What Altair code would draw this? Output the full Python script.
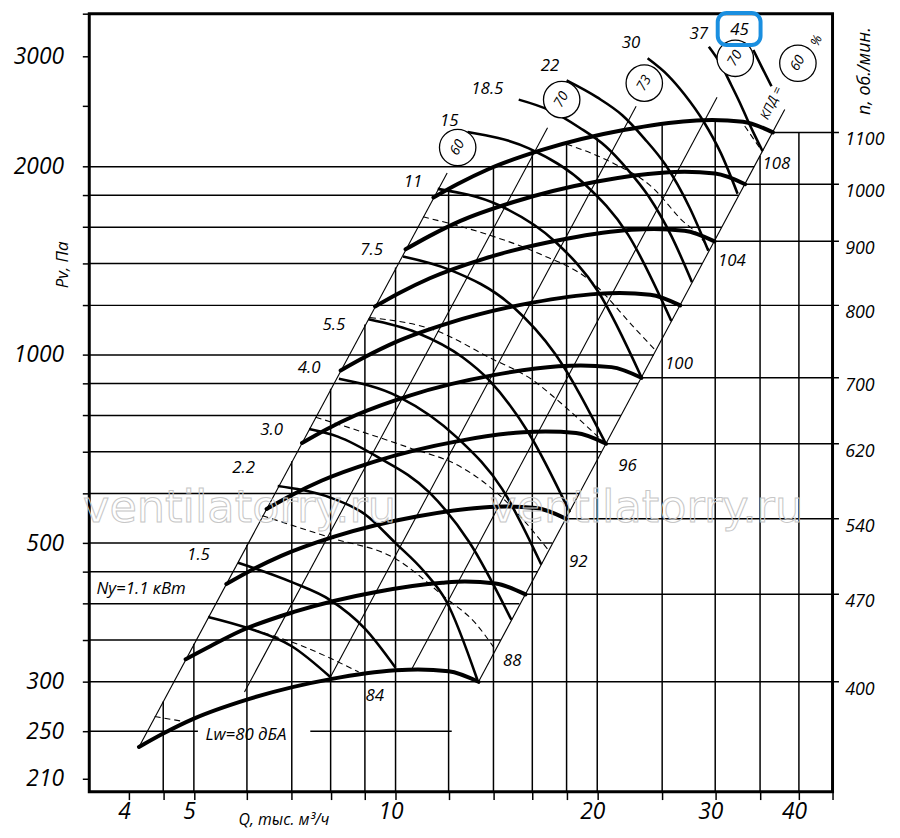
import altair as alt
import pandas as pd

# ---------------- scale domains (Q, thousand m3/h ; Pv, Pa) ----------------
Q_MIN, Q_MAX = 3.49, 44.9
P_MIN, P_MAX = 200.2, 3513.0
Q_RIGHT = 45.9          # rpm lines run a little past the right frame

# ---------------- axis ticks ----------------
x_tick_values = [4, 4.5, 5, 6, 7, 8, 9, 10, 12, 14, 16, 18, 20, 25, 30, 35, 40, 44.9]
x_label_values = [4, 5, 10, 20, 30, 40]
y_tick_values = [210, 250, 300, 350, 400, 450, 500, 600, 700, 800, 900, 1000,
                 1200, 1400, 1600, 1800, 2000, 2500, 3000, 3513]
y_label_values = [210, 250, 300, 500, 1000, 2000, 3000]

# ---------------- grid: horizontal Pv lines (start Q, end Q) ----------------
grid_h_P = [2000, 1800, 1600, 1400, 1200, 1000, 900, 800, 700, 600, 500, 450, 400, 350, 300, 250, 250]
grid_h_Q1 = [Q_MIN, Q_MIN, Q_MIN, Q_MIN, Q_MIN, Q_MIN, Q_MIN, Q_MIN, Q_MIN, Q_MIN,
             Q_MIN, Q_MIN, Q_MIN, Q_MIN, Q_MIN, Q_MIN, 7.46]
grid_h_Q2 = [34.3, 32.5, 30.7, 28.7, 26.6, 24.3, 23.0, 21.7, 20.3, 18.8,
             17.15, 16.3, 15.3, 14.35, 13.3, 5.07, 12.13]

# ---------------- grid: vertical Q lines (top Pv) ----------------
grid_v_Q = [4.5, 5, 6, 7, 8, 9, 10, 12, 14, 16, 18, 20, 25, 30, 35, 40]
grid_v_top = [279, 345, 497, 676, 883, 1118, 1380, 1840, 1985, 2120, 2170, 2225, 2330, 2365, 2082, 2269]

# ---------------- grid: diagonal (efficiency) lines ----------------
diag_Q1 = [4.14, 5.95, 7.97, 10.55, 13.3]
diag_P1 = [236, 289, 303.5, 313, 300]
diag_Q2 = [11.94, 16.86, 22.86, 30.19, 38.1]
diag_P2 = [1954, 2308, 2499, 2583, 2469]

# ---------------- rpm lines / labels (right side) ----------------
rpm_text = ["1100", "1000", "900", "800", "700", "620", "540", "470", "400"]
rpm_P = [2269, 1875, 1519, 1200, 919, 721, 547, 414, 300]
rpm_Q_start = [36.6, 33.25, 29.9, 26.6, 23.3, 20.6, 17.96, 15.6, 13.3]

# ---------------- fan curves ----------------
fan_rpm = [400, 470, 540, 620, 700, 800, 900, 1000, 1100]
fan_Q = [
    [4.14, 4.5, 5.0, 6.0, 8.0, 10.0, 10.8, 12.0, 13.3],
    [4.86, 5.29, 5.88, 7.05, 9.40, 11.75, 12.69, 14.10, 15.63],
    [5.59, 6.08, 6.75, 8.10, 10.80, 13.50, 14.58, 16.20, 17.96],
    [6.42, 6.98, 7.75, 9.30, 12.40, 15.50, 16.74, 18.60, 20.62],
    [7.25, 7.88, 8.75, 10.50, 14.00, 17.50, 18.90, 21.00, 23.28],
    [8.28, 9.00, 10.00, 12.00, 16.00, 20.00, 21.60, 24.00, 26.60],
    [9.32, 10.13, 11.25, 13.50, 18.00, 22.50, 24.30, 27.00, 29.93],
    [10.35, 11.25, 12.50, 15.00, 20.00, 25.00, 27.00, 30.00, 33.25],
    [11.39, 12.38, 13.75, 16.50, 22.00, 27.50, 29.70, 33.00, 36.58],
]
fan_P = [
    [236, 248, 262, 281, 303, 313, 314, 312, 300],
    [326, 342, 362, 388, 418, 432, 434, 431, 414],
    [430, 452, 477, 512, 552, 570, 572, 569, 547],
    [567, 596, 629, 675, 728, 752, 754, 750, 721],
    [723, 760, 802, 861, 928, 959, 962, 956, 919],
    [944, 992, 1048, 1124, 1212, 1252, 1256, 1248, 1200],
    [1195, 1256, 1326, 1423, 1534, 1585, 1590, 1580, 1519],
    [1475, 1550, 1638, 1756, 1894, 1956, 1963, 1950, 1875],
    [1785, 1876, 1981, 2125, 2291, 2367, 2375, 2360, 2269],
]

# ---------------- power curves Ny, kW ----------------
pow_names = ["1.1", "1.5", "2.2", "3.0", "4.0", "5.5", "7.5", "11", "15", "18.5", "22", "30", "37", "45"]
pow_Q = [
    [5.25, 6.0, 7.0, 8.0],
    [5.82, 7.0, 8.0, 9.0, 10.0],
    [6.67, 7.14, 8.0, 9.0, 10.0, 11.0, 11.9, 13.25],
    [7.43, 8.2, 9.37, 11.24, 12.88, 14.89],
    [8.23, 10.11, 12.38, 14.43, 16.5],
    [9.11, 10.74, 12.59, 13.79, 15.8, 18.2],
    [10.26, 12.03, 14.93, 17.3, 20.6],
    [11.56, 14.27, 17.3, 20.05, 23.3],
    [12.81, 15.81, 19.18, 22.21, 25.8],
    [15.27, 17.0, 18.8, 20.6, 22.2, 23.86, 25.8, 27.7],
    [18.0, 20.0, 21.8, 23.5, 25.3, 27.5, 29.3],
    [23.78, 25.5, 27.0, 28.84, 30.6, 32.4],
    [29.35, 30.5, 31.6, 32.6, 33.5, 34.4, 35.3],
    [34.2, 35.3, 36.4],
]
pow_P = [
    [381, 366, 342, 305],
    [465, 433, 405, 365, 316],
    [617, 610, 591, 556, 500, 452, 404, 302],
    [761, 740, 688, 602, 502, 377],
    [916, 857, 736, 610, 462],
    [1140, 1086, 991, 911, 750, 560],
    [1437, 1369, 1197, 1004, 721],
    [1843, 1735, 1518, 1264, 919],
    [2273, 2139, 1873, 1560, 1133],
    [2560, 2460, 2310, 2154, 1979, 1793, 1550, 1307],
    [2748, 2581, 2417, 2220, 2012, 1716, 1467],
    [2981, 2800, 2609, 2360, 2100, 1810],
    [3111, 2930, 2720, 2540, 2380, 2240, 2118],
    [3073, 2870, 2689],
]

# ---------------- sound power Lw, dBA (dashed) ----------------
lw_names = ["80", "84", "88", "92", "96", "100", "104", "108"]
lw_Q = [
    [4.37, 4.85],
    [5.95, 7.27, 8.81],
    [6.33, 8.0, 10.0, 11.9, 13.17, 14.03],
    [7.6, 10.5, 12.45, 14.43, 16.92],
    [9.16, 11.5, 13.79, 16.17, 17.21, 20.6],
    [10.99, 13.79, 16.3, 19.6, 22.7, 24.45],
    [18.0, 20.75, 24.3, 26.6, 28.84, 29.35],
    [33.2, 35.2],
]
lw_P = [
    [264, 259],
    [367, 342, 311],
    [553, 510, 472, 408, 372, 340],
    [795, 710, 664, 591, 487],
    [1147, 1093, 991, 905, 857, 720],
    [1663, 1555, 1455, 1310, 1106, 1016],
    [2173, 2045, 1843, 1652, 1518, 1472],
    [2323, 2120],
]

# ---------------- labels ----------------
pow_lab_text = ["Ny=1.1 кВт", "1.5", "2.2", "3.0", "4.0", "5.5", "7.5", "11", "15", "18.5", "22", "30", "37", "45"]
pow_lab_Q = [4.17, 5.08, 5.93, 6.53, 7.43, 8.09, 9.21, 10.62, 12.03, 13.71, 17.01, 22.47, 28.36, 32.6]
pow_lab_P = [422, 478, 660, 759, 954, 1117, 1472, 1889, 2366, 2662, 2892, 3149, 3257, 3313]

lw_lab_text = ["Lw=80 дБА", "84", "88", "92", "96", "100", "104", "108"]
lw_lab_Q = [5.98, 9.31, 14.93, 18.74, 22.2, 26.49, 31.77, 37.03]
lw_lab_P = [247, 285, 324, 467, 665, 968, 1411, 2020]

eff_text = ["60", "70", "73", "70", "60"]
eff_Q = [12.38, 17.7, 23.51, 32.14, 39.86]
eff_P = [2146, 2560, 2720, 2981, 2927]

kpd_text = ["КПД =", "%"]
kpd_Q = [36.4, 42.5]
kpd_P = [2528, 3181]

rpm_lab_Q = 46.9
n_title_Q, n_title_P = 50.2, 2843

wm_Q = [5.85, 23.7]
wm_P = [568, 568]

hl_Q = [30.26, 35.06]
hl_P = [3523, 3130]

# ================= build tables =================
def curve_table(names, qs, ps):
    rows = []
    for name, ql, pl in zip(names, qs, ps):
        for i, (q, p) in enumerate(zip(ql, pl)):
            rows.append({"id": str(name), "i": i, "Q": q, "P": p})
    return pd.DataFrame(rows)

df_fan = curve_table(fan_rpm, fan_Q, fan_P)
df_pow = curve_table(pow_names, pow_Q, pow_P)
df_lw = curve_table(lw_names, lw_Q, lw_P)

df_h = pd.DataFrame({"q1": grid_h_Q1, "q2": grid_h_Q2, "p": grid_h_P})
df_v = pd.DataFrame({"q": grid_v_Q, "p1": [P_MIN] * len(grid_v_Q), "p2": grid_v_top})
df_d = pd.DataFrame({"q1": diag_Q1, "p1": diag_P1, "q2": diag_Q2, "p2": diag_P2})
df_rpm = pd.DataFrame({"q1": rpm_Q_start, "q2": [Q_RIGHT] * len(rpm_P), "p": rpm_P, "t": rpm_text})

df_powlab = pd.DataFrame({"Q": pow_lab_Q, "P": pow_lab_P, "t": pow_lab_text})
df_lwlab = pd.DataFrame({"Q": lw_lab_Q, "P": lw_lab_P, "t": lw_lab_text})
df_eff = pd.DataFrame({"Q": eff_Q, "P": eff_P, "t": eff_text})
df_kpd = pd.DataFrame({"Q": kpd_Q, "P": kpd_P, "t": kpd_text})
df_rpmlab = pd.DataFrame({"Q": [rpm_lab_Q] * len(rpm_P), "P": rpm_P, "t": rpm_text})
df_ntitle = pd.DataFrame({"Q": [n_title_Q], "P": [n_title_P], "t": ["n, об./мин."]})
df_wm = pd.DataFrame({"Q": wm_Q, "P": wm_P, "t": ["ventilatorry.ru"] * 2})
df_hl = pd.DataFrame({"q1": [hl_Q[0]], "q2": [hl_Q[1]], "p1": [hl_P[0]], "p2": [hl_P[1]]})

# ================= scales & axes =================
xs = alt.Scale(type="log", domain=[Q_MIN, Q_MAX], nice=False, zero=False)
ys = alt.Scale(type="log", domain=[P_MIN, P_MAX], nice=False, zero=False)

FONT = "Open Sans"

x_axis = alt.Axis(
    values=x_tick_values,
    labelExpr="indexof([4,5,10,20,30,40], datum.value) >= 0 ? format(datum.value, 'd') : ''",
    title="Q, тыс. м³/ч", titleX=196, titleY=28, titleAlign="center", titleBaseline="middle",
    titleFont=FONT, titleFontStyle="italic", titleFontWeight="normal", titleFontSize=16, titleColor="black",
    labelFont=FONT, labelFontStyle="italic", labelFontSize=23, labelColor="black",
    labelPadding=1, labelOffset=-5, labelOverlap=False, labelFlush=False, labelBound=False,
    tickSize=8, tickWidth=1.5, tickColor="black", domain=False, grid=False,
)
y_axis = alt.Axis(
    values=y_tick_values,
    labelExpr="indexof([210,250,300,500,1000,2000,3000], datum.value) >= 0 ? format(datum.value, 'd') : ''",
    title="Pv, Па", titleX=-27, titleY=253, titleAngle=270, titleAlign="center", titleBaseline="middle",
    titleFont=FONT, titleFontStyle="italic", titleFontWeight="normal", titleFontSize=17, titleColor="black",
    labelFont=FONT, labelFontStyle="italic", labelFontSize=23, labelColor="black",
    labelPadding=19, labelOverlap=False, labelFlush=False, labelBound=False, labelBaseline="middle",
    tickSize=7, tickWidth=1.5, tickColor="black", domain=False, grid=False,
)

def X(f):
    return alt.X(f, type="quantitative", scale=xs, axis=x_axis)

def Y(f):
    return alt.Y(f, type="quantitative", scale=ys, axis=y_axis)

# ================= layers =================
vert = alt.Chart(df_v).mark_rule(color="black", strokeWidth=1.5).encode(
    x=X("q"), y=Y("p1"), y2="p2:Q",
)
horiz = alt.Chart(df_h).mark_rule(color="black", strokeWidth=1.5).encode(
    x=X("q1"), x2="q2:Q", y=Y("p")
)
rpm_lines = alt.Chart(df_rpm).mark_rule(color="black", strokeWidth=1.5).encode(
    x=X("q1"), x2="q2:Q", y=Y("p")
)
diag = alt.Chart(df_d).mark_rule(color="black", strokeWidth=1.1).encode(
    x=X("q1"), x2="q2:Q", y=Y("p1"), y2="p2:Q"
)
lw_lines = alt.Chart(df_lw).mark_line(color="black", strokeWidth=1.1, strokeDash=[6, 4],
                                      interpolate="monotone").encode(
    x=X("Q"), y=Y("P"), detail="id:N", order="i:Q"
)
pow_lines = alt.Chart(df_pow).mark_line(color="black", strokeWidth=2.6, interpolate="monotone").encode(
    x=X("Q"), y=Y("P"), detail="id:N", order="i:Q"
)
fan_lines = alt.Chart(df_fan).mark_line(color="black", strokeWidth=4, interpolate="monotone",
                                        strokeCap="round").encode(
    x=X("Q"), y=Y("P"), detail="id:N", order="i:Q"
)

txt = dict(font=FONT, fontStyle="italic", color="black", baseline="middle")
pow_labels = alt.Chart(df_powlab).mark_text(fontSize=17, align="center", **txt).encode(
    x=X("Q"), y=Y("P"), text="t:N"
)
lw_labels = alt.Chart(df_lwlab).mark_text(fontSize=17, align="center", **txt).encode(
    x=X("Q"), y=Y("P"), text="t:N"
)
rpm_labels = alt.Chart(df_rpmlab).mark_text(fontSize=18, align="left", dy=8, **txt).encode(
    x=X("Q"), y=Y("P"), text="t:N"
)
n_title = alt.Chart(df_ntitle).mark_text(fontSize=18, align="center", angle=270, **txt).encode(
    x=X("Q"), y=Y("P"), text="t:N"
)
eff_circles = alt.Chart(df_eff).mark_point(shape="circle", size=1350, filled=True, fill="white",
                                           stroke="black", strokeWidth=1.3, opacity=1).encode(
    x=X("Q"), y=Y("P")
)
eff_labels = alt.Chart(df_eff).mark_text(fontSize=14, align="center", angle=300, **txt).encode(
    x=X("Q"), y=Y("P"), text="t:N"
)
kpd_labels = alt.Chart(df_kpd).mark_text(fontSize=13, align="center", angle=295, **txt).encode(
    x=X("Q"), y=Y("P"), text="t:N"
)
watermark = alt.Chart(df_wm).mark_text(font="DejaVu Sans", fontSize=45, align="center",
                                       baseline="middle", fillOpacity=0, stroke="#c6c6c6",
                                       strokeWidth=1).encode(
    x=X("Q"), y=Y("P"), text="t:N"
)
highlight = alt.Chart(df_hl).mark_rect(cornerRadius=9, fillOpacity=0, stroke="#1a8fe0",
                                       strokeWidth=4).encode(
    x=X("q1"), x2="q2:Q", y=Y("p1"), y2="p2:Q"
)

chart = alt.layer(
    vert, horiz, rpm_lines, diag, lw_lines, pow_lines, fan_lines,
    eff_circles, eff_labels, kpd_labels, pow_labels, lw_labels, rpm_labels, n_title,
    watermark, highlight,
).properties(
    width=750, height=785,
    autosize=alt.AutoSizeParams(type="none"),
    padding={"left": 82, "top": 2, "right": 60, "bottom": 40},
    background="white",
).configure_view(stroke="black", strokeWidth=3)

chart.save("out.html", embed_options={"renderer": "svg", "actions": False})
